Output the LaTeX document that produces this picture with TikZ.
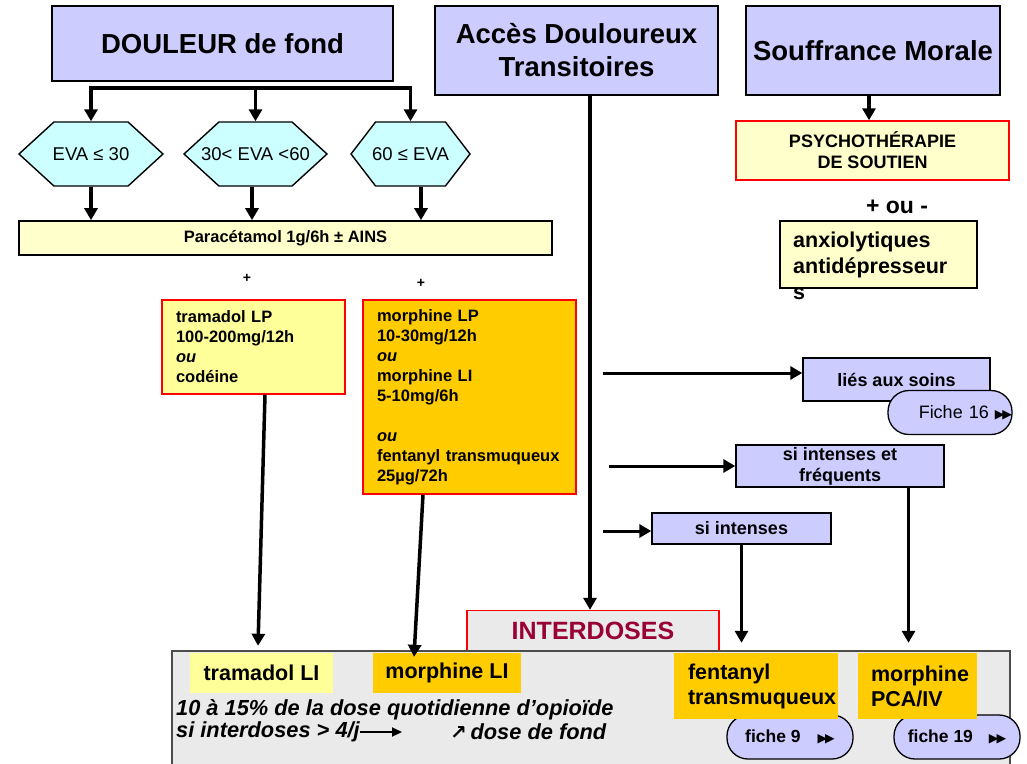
\documentclass[tikz,border=0pt]{standalone}
\usepackage{fontspec}
\setmainfont{Liberation Sans}
\newfontfamily\symbfont{DejaVu Sans}
\usetikzlibrary{arrows.meta,shapes.symbols}

\definecolor{lavande}{HTML}{CCCCFF}
\definecolor{cyanpale}{HTML}{CCFFFF}
\definecolor{jaunepale}{HTML}{FFFFCC}
\definecolor{jaune}{HTML}{FFFF99}
\definecolor{orange}{HTML}{FFCC00}
\definecolor{grisfond}{HTML}{EAEAEA}
\definecolor{bordeaux}{HTML}{990033}

\newcommand{\fsz}[2]{\fontsize{#1}{#2}\selectfont}
\newcommand{\avance}{{\symbfont\fsz{12.5}{14}▶\kern-2pt▶}}

\tikzset{
  titre/.style={draw, line width=1.8pt, fill=lavande, align=center, inner sep=0pt,
    font=\bfseries\fsz{27.5}{33}},
  hexa/.style={signal, signal to=west and east, draw, line width=1.4pt, fill=cyanpale,
    inner sep=0pt, minimum height=64, font=\fsz{18.5}{21}},
  boite/.style={draw, line width=1.6pt, inner sep=0pt},
  rouge/.style={draw=red, line width=1.4pt, inner sep=0pt},
  gauche/.style={align=left, inner xsep=14pt, inner ysep=0pt},
  etiq/.style={draw, line width=1.4pt, fill=lavande, align=center, inner sep=0pt,
    font=\bfseries\fsz{18}{21}},
  fiche/.style={draw, line width=1.3pt, fill=lavande, rounded corners=21pt,
    minimum height=44, inner ysep=0pt},
  pave/.style={inner sep=0pt, font=\bfseries\fsz{21.5}{25}},
  flux/.style={line width=3.5pt, -{Triangle[length=12pt,width=13pt]}},
  barre/.style={line width=3.5pt, line cap=rect},
  filet/.style={line width=2pt, -{Triangle[length=10pt,width=9pt]}},
  signe/.style={inner sep=0pt, font=\bfseries\fsz{14}{16}}
}

\begin{document}
\begin{tikzpicture}[x=1pt,y=-1pt]
\useasboundingbox (0,0) rectangle (1027,763);

% Draw the three headings
\node[titre, minimum width=341, minimum height=75] (douleur) at (222.5,43.5) {DOULEUR de fond};
\node[titre, minimum width=283, minimum height=89] (acces) at (576.5,50.5) {Accès Douloureux\\Transitoires};
\node[titre, minimum width=254, minimum height=89] (morale) at (873,50.5) {Souffrance Morale};

% EVA levels
\node[hexa, signal pointer angle=85, minimum width=144] (eva1) at (91,154) {\makebox[0pt]{EVA ≤ 30}};
\node[hexa, signal pointer angle=85, minimum width=143] (eva2) at (255.5,154) {\makebox[0pt]{30< EVA <60}};
\node[hexa, signal pointer angle=105, minimum width=119] (eva3) at (410.5,154) {\makebox[0pt]{60 ≤ EVA}};

\coordinate (fourche) at (255,88);
\draw[barre] (eva1.north |- fourche) -- (eva3.north |- fourche);
\foreach \h in {eva1,eva2,eva3}
  \draw[flux] (\h.north |- fourche) -- (\h.north);

% Paracetamol line
\node[boite, fill=jaunepale, minimum width=533, minimum height=34,
  font=\bfseries\fsz{16.5}{19}] (para) at (285.5,238) {Paracétamol 1g/6h ± AINS};
\draw[flux] (eva1.south) -- (eva1.south |- para.north);
\draw[flux] ([xshift=-3.5pt]eva2.south) -- ([xshift=-3.5pt]eva2.south |- para.north);
\draw[flux] ([xshift=10.5pt]eva3.south) -- ([xshift=10.5pt]eva3.south |- para.north);

\node[signe] (plus1) at (247,278) {+};
\node[signe] (plus2) at (421,283) {+};

% Opioids
\node[rouge, gauche, fill=jaune, minimum width=183, minimum height=94, text width=155,
  font=\bfseries\fsz{16.5}{20}] (tramLP) at (253.5,347)
  {tramadol LP\\100-200mg/12h\\\textit{ou}\\codéine};
\node[rouge, gauche, fill=orange, minimum width=213, minimum height=194, text width=185,
  font=\bfseries\fsz{16.5}{20}] (morphLP) at (469.5,397)
  {morphine LP\\10-30mg/12h\\\textit{ou}\\morphine LI\\5-10mg/6h\\[20pt]\textit{ou}\\fentanyl transmuqueux\\25µg/72h};

% Souffrance morale
\node[rouge, fill=jaunepale, align=center, minimum width=273, minimum height=59,
  font=\bfseries\fsz{18}{21}] (psycho) at (872.5,150.5) {PSYCHOTHÉRAPIE\\DE SOUTIEN};
\draw[flux] ([xshift=-4pt]morale.south) -- ([xshift=-4pt]morale.south |- psycho.north);
\node[inner sep=0pt, font=\bfseries\fsz{23}{26}] (ouplus) at (897,207) {+ ou -};
\node[boite, line width=1.4pt, fill=jaunepale, minimum width=197, minimum height=67] (anxio) at (878.5,254.5) {};
\node[anchor=north west, align=left, inner sep=0pt, font=\bfseries\fsz{21.5}{26}] (anxiotext)
  at (793,232) {anxiolytiques\\antidépresseur\\s};

% Acces douloureux
\node[etiq, minimum width=187, minimum height=43] (soins) at (896.5,379.5) {liés aux soins};
\node[fiche, minimum width=124, text width=124, inner xsep=0pt, align=right,
  font=\fsz{18}{20}] (fiche16) at (950,412.5) {Fiche 16 \avance};
\node[etiq, minimum width=208, minimum height=42] (freq) at (840,466) {si intenses et\\fréquents};
\node[etiq, minimum width=179, minimum height=31] (intense) at (741.5,528.5) {si intenses};

\coordinate (d1) at (603,373);
\coordinate (d2) at (609,466);
\coordinate (d3) at (603,531);
\draw[flux, line width=3pt] (d1) -- (d1 -| soins.west);
\draw[flux, line width=3pt] (d2) -- (d2 -| freq.west);
\draw[flux, line width=3pt] (d3) -- (d3 -| intense.west);

% Interdoses
\node[rouge, fill=grisfond, minimum width=252, minimum height=41, text=bordeaux,
  font=\bfseries\fsz{25}{28}] (inter) at (593,631) {INTERDOSES};
\node[draw=black!70, line width=1.3pt, fill=grisfond, minimum width=838, minimum height=124,
  inner sep=0pt] (zone) at (591,713) {};
\draw[flux] ([xshift=13.5pt]acces.south) -- ([xshift=13.5pt]acces.south |- inter.north);

\node[fiche, minimum width=126, inner xsep=13pt,
  font=\bfseries\fsz{17.5}{20}] (fiche9) at (790,737) {fiche 9\hspace{17pt}\avance\hspace{20pt}};
\node[fiche, minimum width=126, inner xsep=10pt,
  font=\bfseries\fsz{17.5}{20}] (fiche19) at (957,737) {fiche 19\hspace{16pt}\avance};

\node[pave, fill=jaune, minimum width=143, minimum height=40] (tramLI) at (261.5,673) {tramadol LI};
\node[pave, fill=orange, minimum width=148, minimum height=40] (morphLI) at (447,673) {morphine LI};
\node[pave, fill=orange, gauche, minimum width=164, minimum height=66, text width=136,
  inner xsep=13pt] (fent) at (756,686) {fentanyl\\transmuqueux};
\node[pave, fill=orange, gauche, minimum width=119, minimum height=66, text width=93,
  inner xsep=13pt] (pca) at (917.5,686) {morphine\\PCA/IV};

\node[anchor=west, inner sep=0pt, font=\bfseries\itshape\fsz{21.8}{24}] (dosetext) at (176,710)
  {10 à 15\% de la dose quotidienne d’opioïde};
\node[anchor=west, inner sep=0pt, font=\bfseries\itshape\fsz{21.8}{24}] (seuil) at (176,732)
  {si interdoses > 4/j};
\node[anchor=west, inner sep=0pt, font=\bfseries\itshape\fsz{21.8}{24}] (fond) at (450,732)
  {{\symbfont\fsz{20}{22}↗}\,dose de fond};
\draw[filet] (seuil.east) -- ([xshift=-48pt]fond.west);

% Arrows into the interdoses
\draw[flux] ([xshift=11.5pt]tramLP.south) -- ([xshift=-3.5pt,yshift=7pt]tramLI.north);
\draw[flux] ([xshift=-46.5pt]morphLP.south) -- ([xshift=-33pt,yshift=-4pt]morphLI.north);
\draw[flux, line width=3pt, shorten >=10pt] (intense.south) -- (intense.south |- fent.north);
\draw[flux, line width=3pt, shorten >=10pt] ([xshift=68.5pt]freq.south) -- ([xshift=68.5pt]freq.south |- pca.north);
\end{tikzpicture}
\end{document}
